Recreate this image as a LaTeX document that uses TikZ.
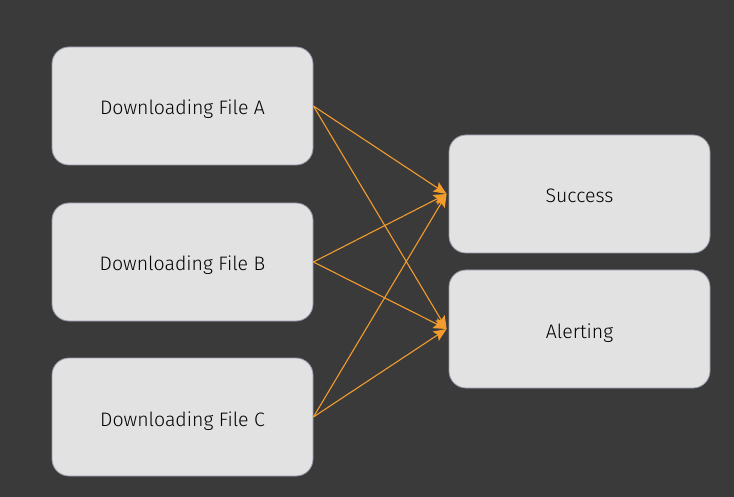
\documentclass[tikz,border=0pt]{standalone}
\usepackage{fontspec}
\setmainfont{Fira Sans}[UprightFont=* Light]
\usetikzlibrary{arrows.meta}
\definecolor{bgc}{HTML}{3A3A3A}
\definecolor{boxfill}{HTML}{E3E2E2}
\definecolor{boxline}{HTML}{9098A8}
\definecolor{arr}{HTML}{F39C2B}
\tikzset{
  stage/.style={draw=boxline, line width=0.8pt, fill=boxfill, rounded corners=17pt,
    minimum width=261pt, minimum height=118pt, inner sep=0pt, text=black,
    text height=18pt, text depth=0pt,
    font=\fontsize{19.5}{22}\selectfont},
  link/.style={draw=arr, line width=1.1pt, -{Stealth[length=13pt,width=11pt,inset=2.5pt]}}
}
\begin{document}
\begin{tikzpicture}[x=1pt,y=-1pt]
\fill[bgc] (0,0) rectangle (734,497);
\useasboundingbox (0,0) rectangle (734,497);
\node[stage] (a) at (182.5,106) {Downloading File A};
\node[stage] (b) at (182.5,262) {Downloading File B};
\node[stage] (c) at (182.5,417) {Downloading File C};
\node[stage] (s) at (579.5,194) {Success};
\node[stage] (l) at (579.5,329) {Alerting};
\foreach \src in {a,b,c}{
  \draw[link] (\src.east) -- ([xshift=-2pt]s.west);
  \draw[link] (\src.east) -- ([xshift=-2pt]l.west);
}
\end{tikzpicture}
\end{document}
